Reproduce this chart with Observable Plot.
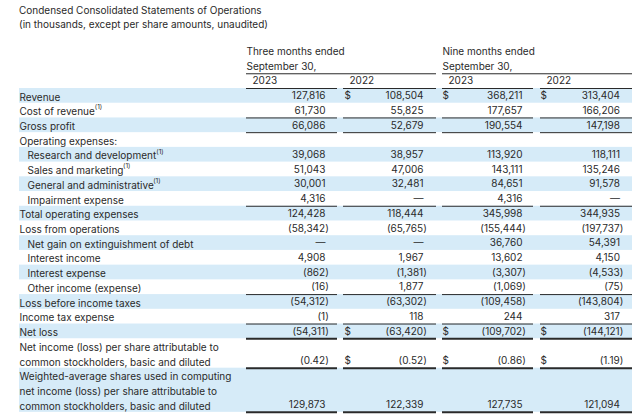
<!DOCTYPE html>
<html><head><meta charset="utf-8">
<script src="https://cdn.jsdelivr.net/npm/d3@7"></script>
<script src="https://cdn.jsdelivr.net/npm/@observablehq/plot@0.6"></script>
<style>
body{margin:0;background:#fff;font-family:Inter,sans-serif;color:#2a2a2a}
#title{height:38px;padding:3px 0 0 19px;box-sizing:border-box;font-size:10px;line-height:14px}
</style></head><body>
<div id="title"><div>Condensed Consolidated Statements of Operations</div><div>(in thousands, except per share amounts, unaudited)</div></div>
<div id="chart"></div>
<script>
// ---- data ----
const labels = [
  "Revenue","Cost of revenue","Gross profit","Operating expenses:",
  "Research and development","Sales and marketing","General and administrative",
  "Impairment expense","Total operating expenses","Loss from operations",
  "Net gain on extinguishment of debt","Interest income","Interest expense",
  "Other income (expense)","Loss before income taxes","Income tax expense","Net loss",
  "Net income (loss) per share attributable to\ncommon stockholders, basic and diluted",
  "Weighted-average shares used in computing\nnet income (loss) per share attributable to\ncommon stockholders, basic and diluted"
];
const level    = [0,0,0,0,1,1,1,1,0,0,1,1,1,1,0,0,0,0,0];
const footnote = [0,1,0,0,1,1,1,0,0,0,0,0,0,0,0,0,0,0,0];
const dollar   = [1,0,0,0,0,0,0,0,0,0,0,0,0,0,0,0,1,1,0];
const subtotal = [0,1,1,0,0,0,0,1,0,0,0,0,0,1,0,1,2,2,2];
const groups = ["Three months ended\nSeptember 30,","Nine months ended\nSeptember 30,"];
const years = ["2023","2022","2023","2022"];
const threeMonths2023 = [127816,61730,66086,null,39068,51043,30001,4316,124428,-58342,0,4908,-862,-16,-54312,-1,-54311,-0.42,129873];
const threeMonths2022 = [108504,55825,52679,null,38957,47006,32481,0,118444,-65765,0,1967,-1381,1877,-63302,118,-63420,-0.52,122339];
const nineMonths2023  = [368211,177657,190554,null,113920,143111,84651,4316,345998,-155444,36760,13602,-3307,-1069,-109458,244,-109702,-0.86,127735];
const nineMonths2022  = [313404,166206,147198,null,118111,135246,91578,0,344935,-197737,54391,4150,-4533,-75,-143804,317,-144121,-1.19,121094];
const series = [threeMonths2023,threeMonths2022,nineMonths2023,nineMonths2022];

// ---- layout ----
const L = 14.72, Y0 = 50, FS = 10;
const cols = [
  {x1:246, x2:337, right:325,   dollarX:null},
  {x1:343, x2:436, right:423,   dollarX:344},
  {x1:442, x2:533, right:522,   dollarX:442},
  {x1:540, x2:632, right:619.5, dollarX:540}
];
const groupSpan = [{x1:246,x2:436},{x1:442,x2:632}];

let acc = 0;
const rows = labels.map((lab,i)=>{
  const n = lab.split("\n").length;
  const r = {i, label: lab, lx: 19 + level[i]*8, level: level[i], start: acc, end: acc+n, mid: acc+n/2, vy: acc+n-0.5, shaded: i%2===0};
  acc += n;
  return r;
});
function fmt(v){
  if (v===0) return "\u2014";
  const d = Number.isInteger(v)?0:2;
  const s = Math.abs(v).toLocaleString("en-US",{minimumFractionDigits:d,maximumFractionDigits:d});
  return v<0 ? "("+s+")" : s;
}
const cells = [];
rows.forEach(r=>series.forEach((s,c)=>{
  const v = s[r.i];
  if (v===null) return;
  cells.push({...r, col:c, v, txt: fmt(v), right: cols[c].right, dollarX: cols[c].dollarX, dollar: dollar[r.i] && cols[c].dollarX!==null});
}));
const rules = [];
rows.forEach(r=>{ if(subtotal[r.i]) cols.forEach(c=>rules.push({y:r.end, x1:c.x1, x2:c.x2, w:subtotal[r.i]})); });
const yearCells = years.map((t,c)=>({t, x: cols[c].x1+6, x1: cols[c].x1, x2: cols[c].x2}));
const groupCells = groups.map((t,g)=>({t, x: groupSpan[g].x1, x1: groupSpan[g].x1, x2: groupSpan[g].x2}));
const noteRows = rows.filter(r=>footnote[r.i]);

const chart = Plot.plot({
  width:640, height:381, margin:0,
  x:{type:"linear", domain:[0,640], range:[0,640], axis:null},
  y:{type:"linear", domain:[-3,22], range:[Y0-3*L, Y0+22*L], axis:null},
  style:{fontFamily:"Inter, sans-serif", fontSize:FS+"px", color:"#2a2a2a", background:"#fff"},
  marks:[
    Plot.rect(rows.filter(r=>r.shaded), {x1:19, x2:632, y1:"start", y2:"end", fill:"#d6ebf8"}),
    // text mark #0: row labels
    Plot.text(rows, {x:"lx", y:"mid", text:"label", textAnchor:"start", lineAnchor:"middle", lineHeight:L/FS}),
    // text mark #1: footnote markers
    Plot.text(noteRows, {x:"lx", y:"mid", text:()=>"(1)", textAnchor:"start", lineAnchor:"middle", fontSize:6.5, dy:-3.2}),
    Plot.text(cells.filter(d=>!(d.v<0)), {x:"right", y:"vy", text:"txt", textAnchor:"end", lineAnchor:"middle"}),
    Plot.text(cells.filter(d=>d.v<0), {x:"right", y:"vy", text:"txt", textAnchor:"end", lineAnchor:"middle", dx:3.3}),
    Plot.text(cells.filter(d=>d.dollar), {x:"dollarX", y:"vy", text:()=>"$", textAnchor:"start", lineAnchor:"middle"}),
    Plot.ruleY(rules.filter(d=>d.w===1), {y:"y", x1:"x1", x2:"x2", stroke:"#2a2a2a", strokeWidth:1}),
    Plot.ruleY(rules.filter(d=>d.w===2), {y:"y", x1:"x1", x2:"x2", stroke:"#2a2a2a", strokeWidth:2}),
    Plot.text(groupCells, {x:"x", y:-2, text:"t", textAnchor:"start", lineAnchor:"middle", lineHeight:L/FS, dy:-1}),
    Plot.ruleY(groupCells, {y:-1, x1:"x1", x2:"x2", stroke:"#2a2a2a", strokeWidth:1}),
    Plot.text(yearCells, {x:"x", y:-0.5, text:"t", textAnchor:"start", lineAnchor:"middle"}),
    Plot.ruleY(yearCells, {y:0, x1:"x1", x2:"x2", stroke:"#2a2a2a", strokeWidth:1})
  ]
});
document.getElementById("chart").appendChild(chart);
// place footnote markers right after the rendered label text
function placeNotes(){
  const textGroups = chart.querySelectorAll('g[aria-label="text"]');
  if (textGroups.length < 2) return;
  const labelTexts = textGroups[0].querySelectorAll("text");
  const notes = textGroups[1].querySelectorAll("text");
  notes.forEach((el,k)=>{
    const lab = labelTexts[noteRows[k].i];
    if (!lab) return;
    const w = lab.getBBox().width;
    el.setAttribute("x", (w * 0.99 + 0.6).toFixed(2));
  });
}
placeNotes();
if (document.fonts && document.fonts.ready) document.fonts.ready.then(placeNotes);
</script></body></html>
